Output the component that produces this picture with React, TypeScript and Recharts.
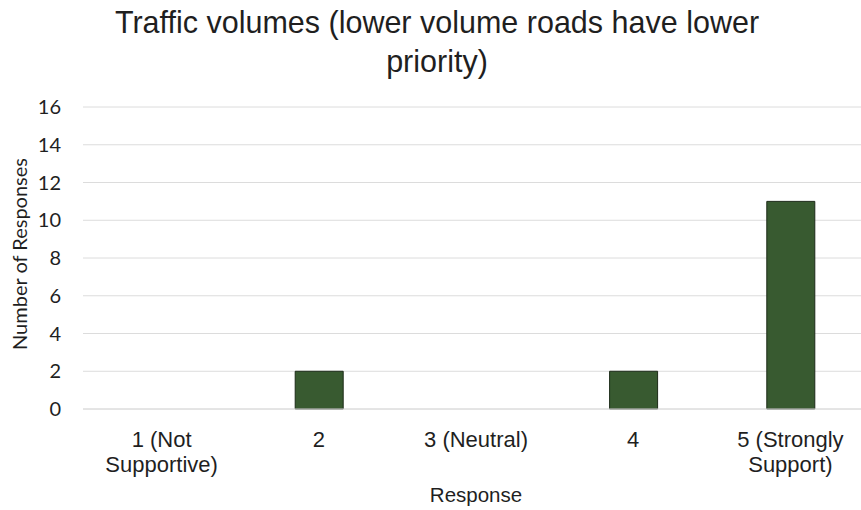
import React from "react";
import { BarChart, Bar, XAxis, YAxis, CartesianGrid } from "recharts";

const categories: string[] = ["1 (Not\nSupportive)", "2", "3 (Neutral)", "4", "5 (Strongly\nSupport)"];
const responses: number[] = [0, 2, 0, 2, 11];
const yTicks: number[] = [0, 2, 4, 6, 8, 10, 12, 14, 16];
const title: string[] = ["Traffic volumes (lower volume roads have lower", "priority)"];
const xTitle = "Response";
const yTitle = "Number of Responses";

const data = categories.map((c, i) => ({ name: c, value: responses[i] }));

const ARIAL = "'Liberation Sans', Arial, sans-serif";
const CALIBRI = "Lato, 'Open Sans', sans-serif";
const TEXT = "#1f1f1f";

const XTick = (props: any) => {
  const { x, y, payload } = props;
  const lines = String(payload.value).split("\n");
  return (
    <text x={x} y={y} textAnchor="middle" fill={TEXT} fontFamily={ARIAL} fontSize={22}>
      {lines.map((l: string, i: number) => (
        <tspan key={i} x={x} dy={i === 0 ? 30 : 25}>{l}</tspan>
      ))}
    </text>
  );
};

export default function App() {
  return (
    <div style={{ position: "absolute", left: 0, top: 0, width: 861, height: 510, overflow: "hidden", background: "#fff" }}>
      <div style={{ position: "absolute", left: 0, top: 0 }}>
        <BarChart width={870} height={510} data={data} margin={{ top: 107, right: 1, bottom: 41, left: 0 }} barCategoryGap={0}>
          <text x={437} y={33} textAnchor="middle" fill={TEXT} fontFamily={ARIAL} fontSize={30.5}>{title[0]}</text>
          <text x={437} y={72} textAnchor="middle" fill={TEXT} fontFamily={ARIAL} fontSize={30.5}>{title[1]}</text>
          <CartesianGrid horizontal vertical={false} stroke="#dcdcdc" />
          <XAxis dataKey="name" height={60} tick={<XTick />} tickLine={false} axisLine={{ stroke: "#dcdcdc" }} interval={0}
            label={(p: any) => {
              const vb = p.viewBox || {};
              return (
                <text x={vb.x + vb.width / 2} y={vb.y + 93} textAnchor="middle" fill={TEXT} fontSize={20.5} fontFamily={ARIAL}>{xTitle}</text>
              );
            }} />
          <YAxis domain={[0, 16]} ticks={yTicks} width={83} tickLine={false} axisLine={false} tickSize={0} tickMargin={22}
            tick={{ fill: TEXT, fontSize: 20, fontFamily: CALIBRI }}
            label={() => (
              <text x={19} y={254} transform="rotate(-90, 19, 254)" textAnchor="middle" dominantBaseline="central" fill={TEXT} fontSize={20} fontFamily={CALIBRI}>{yTitle}</text>
            )} />
          <Bar dataKey="value" fill="#385a30" stroke="#1c2a18" strokeWidth={1} barSize={48} isAnimationActive={false} />
        </BarChart>
      </div>
    </div>
  );
}
